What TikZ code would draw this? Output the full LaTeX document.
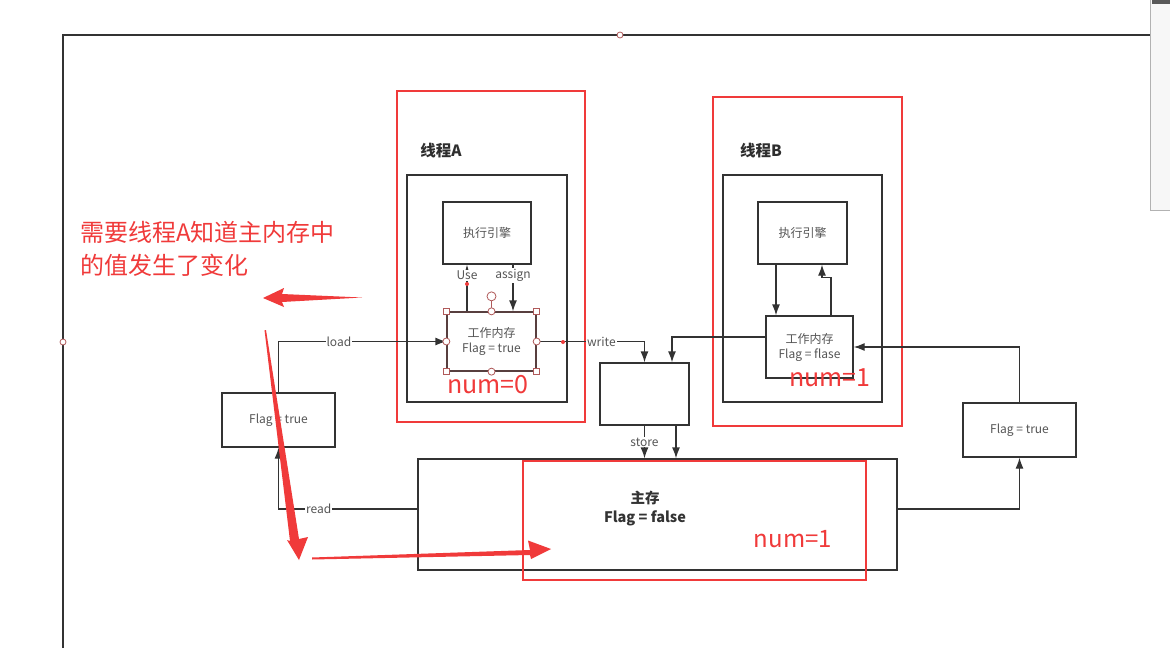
\documentclass[tikz,border=0pt]{standalone}
\usepackage{fontspec}
\setmainfont{Noto Sans CJK SC}
\usetikzlibrary{arrows.meta,calc}
\definecolor{ln}{HTML}{333333}
\definecolor{tx}{HTML}{555555}
\definecolor{rd}{HTML}{F03A3A}
\definecolor{hd}{HTML}{B05A5A}
\tikzset{
  box/.style={draw=ln, line width=1.3pt, inner sep=0pt, text=tx, font=\fontsize{12}{15}\selectfont, align=center},
  redframe/.style={draw=rd, line width=2.4pt, inner sep=0pt},
  conn/.style={draw=ln, line width=1.3pt},
  arr/.style={conn, -{Latex[length=11pt,width=8pt]}},
  lbl/.style={fill=white, text=tx, inner sep=1pt, font=\fontsize{12}{14}\selectfont},
  redtext/.style={text=rd, inner sep=0pt},
  hsq/.style={draw=hd, fill=white, line width=0.8pt, minimum size=6pt, inner sep=0pt},
  hci/.style={draw=hd, fill=white, line width=0.8pt, circle, minimum size=7pt, inner sep=0pt},
  redarrow/.style={fill=rd, draw=none}
}
\begin{document}
\begin{tikzpicture}[x=1pt,y=-1pt]
\useasboundingbox[fill=white] (0,0) rectangle (1170,648);
% page frame
\draw[ln, line width=1.3pt] (63,648) -- (63,35) -- (1150,35);
\node[hci, minimum size=6pt] (ph1) at (620,35) {};
\node[hci, minimum size=6pt] (ph2) at (63,342) {};
% toolbar
\draw[gray!60, fill=gray!6, line width=0.6pt] (1150,-2) rectangle (1172,210);
\fill[gray!70!black] (1152,0) rectangle (1172,4);

% thread A
\node[redframe, minimum width=188pt, minimum height=331pt] (rA) at (491,256.5) {};
\node[font=\fontsize{15.5}{18}\selectfont\bfseries, text=ln!90!black] (tA) at (441,151) {线程A};
\node[box, minimum width=160pt, minimum height=227pt] (iA) at (487,288.5) {};
\node[box, minimum width=88pt, minimum height=62pt] (engA) at (487,233) {执行引擎};
\node[box, draw=ln!70!hd, minimum width=89pt, minimum height=59pt] (wmA) at (491.5,341.5) {工作内存\\Flag = true};
\node[redtext, font=\fontsize{25}{28}\selectfont] (num0) at (488,385) {num=0};

% thread B
\node[redframe, minimum width=189pt, minimum height=329pt] (rB) at (807.5,261.5) {};
\node[font=\fontsize{15.5}{18}\selectfont\bfseries, text=ln!90!black] (tB) at (761,151) {线程B};
\node[box, minimum width=159pt, minimum height=227pt] (iB) at (802.5,288.5) {};
\node[box, minimum width=89pt, minimum height=62pt] (engB) at (802.5,233) {执行引擎};
\node[box, minimum width=87pt, minimum height=62pt] (wmB) at (809.5,347) {工作内存\\Flag = flase};
\node[redtext, font=\fontsize{25}{28}\selectfont] (num1B) at (830,378) {num=1};

% other boxes
\node[box, minimum width=113pt, minimum height=54pt] (fL) at (278.5,420) {Flag = true};
\node[box, minimum width=89pt, minimum height=62pt] (mid) at (644.5,394) {};
\node[box, minimum width=479pt, minimum height=111pt] (main) at (657.5,514.5) {};
\node[font=\fontsize{14.5}{19}\selectfont\bfseries, text=ln, align=center] (mainT) at (645,508) {主存\\Flag = false};
\node[redframe, minimum width=343pt, minimum height=119pt] (rM) at (694.5,520.5) {};
\node[redtext, font=\fontsize{24}{27}\selectfont] (num1M) at (793,539) {num=1};
\node[box, minimum width=113pt, minimum height=54pt] (fR) at (1019.5,430) {Flag = true};

% connectors
\draw[arr] (fL.north) |- node[lbl, pos=0.68] {load} (wmA.west);
\draw[arr] ([yshift=5.5pt]main.west) -| node[lbl, pos=0.355] {read} (fL.south);
\draw[arr] (wmA.east) -| node[lbl, pos=0.3] {write} (mid.north);
\coordinate (bIn) at ([xshift=27.5pt]mid.north);
\draw[arr] ([yshift=10pt]wmB.west) -| (bIn);
\coordinate (st1) at (mid.south);
\coordinate (st2) at ([xshift=31.5pt]mid.south);
\draw[arr] (st1) -- node[lbl, pos=0.5] {store} (st1 |- main.north);
\draw[arr] (st2) -- (st2 |- main.north);
\draw[arr] ([yshift=5.5pt]main.east) -| (fR.south);
\draw[arr] (fR.north) |- (wmB.east);

% thread A internal
\coordinate (uA) at ([xshift=-24.5pt]wmA.north);
\draw[arr] (uA) -- node[lbl, pos=0.77] {Use} (uA |- engA.south);
\coordinate (aA) at ([xshift=26pt]engA.south);
\draw[arr] (aA) -- node[lbl, pos=0.23] {assign} (aA |- wmA.north);
\fill[rd] (467,284) circle (2pt);
\fill[rd] (563,342) circle (2pt);

% thread B internal
\coordinate (bD) at ([xshift=-26.5pt]engB.south);
\draw[arr] (bD) -- (bD |- wmB.north);
\coordinate (bU1) at ([xshift=21.5pt]wmB.north);
\coordinate (bU2) at ([xshift=19.5pt]engB.south);
\draw[arr] (bU1) |- ($(bU1)!0.75!(bU2)$) -| (bU2);

% selection handles on wmA
\coordinate (rot) at ([yshift=15pt]wmA.north);
\draw[hd, line width=0.8pt] (wmA.north) -- (rot);
\node[hci, minimum size=9pt] (hrot) at (rot) {};
\foreach \a in {north west,north east,south west,south east}
  \node[hsq] at (wmA.\a) {};
\foreach \a in {north,south,east,west}
  \node[hci] at (wmA.\a) {};

% annotation
\node[redtext, anchor=west, font=\fontsize{24}{33}\selectfont, align=left] (note) at (80,249) {需要线程A知道主内存中\\的值发生了变化};

% freehand red arrows
\fill[redarrow] (362,297.5) -- (282,294) -- (284,288) -- (263,298) -- (284,307) -- (282,302) -- cycle;
\fill[redarrow] (264.5,330) -- (290,541) -- (287,540) -- (299,560) -- (308,537) -- (299,539) -- (266,330) -- cycle;
\fill[redarrow] (312,557.5) -- (530,550) -- (528,540.5) -- (551,549) -- (531,559) -- (530,555) -- (312,559.5) -- cycle;
\end{tikzpicture}
\end{document}
